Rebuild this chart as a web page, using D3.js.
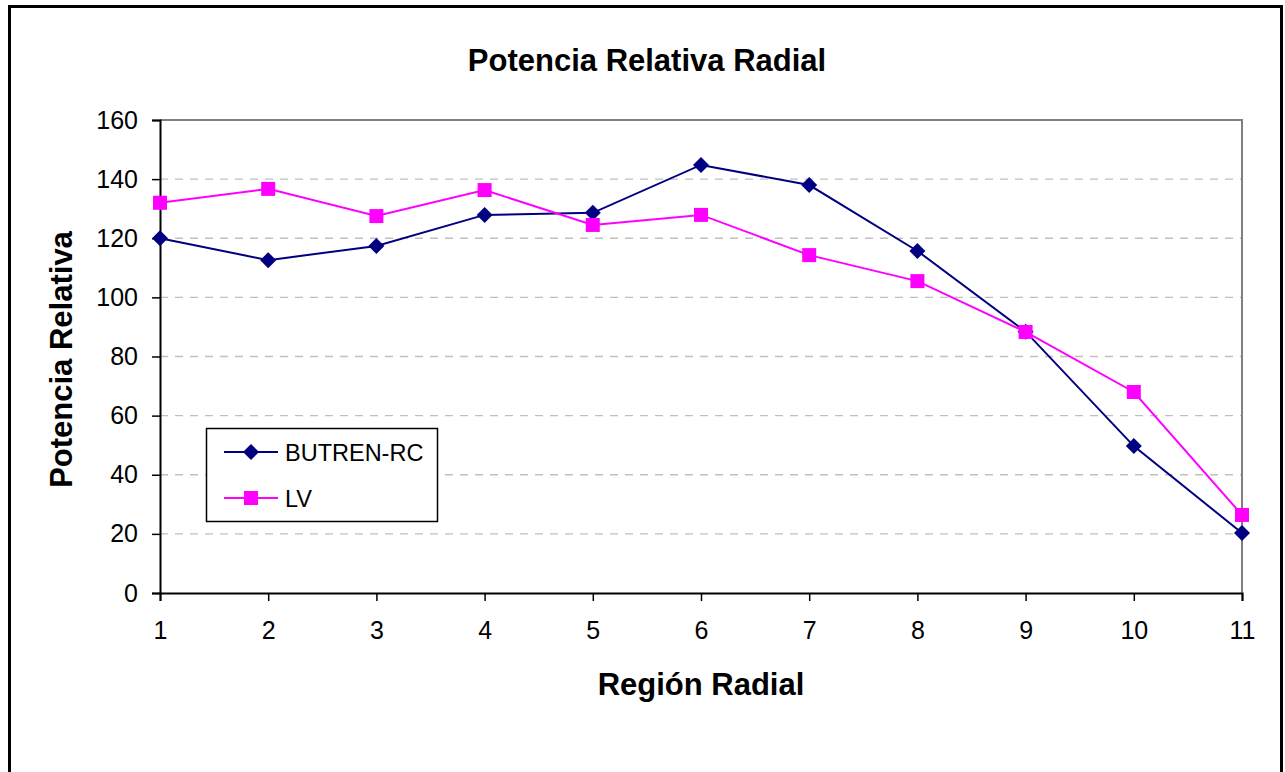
<!DOCTYPE html>
<html lang="es">
<head>
<meta charset="utf-8">
<title>Potencia Relativa Radial</title>
<script src="https://d3js.org/d3.v7.min.js"></script>
<style>
  body { margin: 0; background: #fff; }
  svg { font-family: "Liberation Sans", Arial, sans-serif; }
</style>
</head>
<body>
<script>
// data
const regions = [1, 2, 3, 4, 5, 6, 7, 8, 9, 10, 11];
const butren = [120, 112.6, 117.4, 127.9, 128.6, 144.8, 138, 115.7, 88.4, 49.7, 20.3];
const lv = [132, 136.7, 127.5, 136.3, 124.5, 127.9, 114.3, 105.5, 88.3, 68, 26.4];
const yTicks = [0, 20, 40, 60, 80, 100, 120, 140, 160];

const W = 1285, H = 772;
const plot = {left: 160, top: 120, right: 1242, bottom: 593};

const svg = d3.select("body").append("svg")
    .attr("width", W).attr("height", H);

// outer frame
svg.append("rect")
    .attr("x", 9.5).attr("y", 6.5)
    .attr("width", 1272).attr("height", 780)
    .attr("fill", "#fff").attr("stroke", "#000").attr("stroke-width", 3);

const x = d3.scaleLinear().domain([1, 11]).range([plot.left, plot.right]);
const y = d3.scaleLinear().domain([0, 160]).range([plot.bottom, plot.top]);

// grid lines
svg.append("g").selectAll("line")
    .data(yTicks.filter(d => d > 0 && d < 160))
    .join("line")
    .attr("x1", plot.left).attr("x2", plot.right)
    .attr("y1", d => y(d)).attr("y2", d => y(d))
    .attr("stroke", "#c0c0c0").attr("stroke-width", 1.3)
    .attr("stroke-dasharray", "8,7");

// top and right border of plot area
svg.append("path")
    .attr("d", `M${plot.left},${plot.top}H${plot.right}V${plot.bottom}`)
    .attr("fill", "none").attr("stroke", "#808080").attr("stroke-width", 2);

// axes
const yAxis = svg.append("g")
    .attr("transform", `translate(${plot.left},0)`)
    .call(d3.axisLeft(y).tickValues(yTicks).tickSize(8).tickPadding(14));
const xAxis = svg.append("g")
    .attr("transform", `translate(0,${plot.bottom})`)
    .call(d3.axisBottom(x).tickValues(regions).tickFormat(d3.format("d")).tickSize(8).tickPadding(20));

[yAxis, xAxis].forEach(a => {
  a.attr("font-size", 25).attr("font-family", "'Liberation Sans', Arial, sans-serif");
  a.select(".domain").attr("stroke", "#000").attr("stroke-width", 2);
  a.selectAll(".tick line").attr("stroke", "#000").attr("stroke-width", 1.5);
  a.selectAll("text").attr("fill", "#000");
});

// lines
const line = d3.line().x((d, i) => x(regions[i])).y(d => y(d));
const series = [
  {name: "BUTREN-RC", values: butren, color: "#000080", marker: "diamond"},
  {name: "LV", values: lv, color: "#ff00ff", marker: "square"}
];

const diamond = s => `M0,${-s}L${s},0L0,${s}L${-s},0Z`;
const square = s => `M${-s},${-s}H${s}V${s}H${-s}Z`;

series.forEach(s => {
  svg.append("path")
      .datum(s.values)
      .attr("d", line)
      .attr("fill", "none")
      .attr("stroke", s.color)
      .attr("stroke-width", 2);
});
series.forEach(s => {
  svg.append("g").selectAll("path")
      .data(s.values)
      .join("path")
      .attr("transform", (d, i) => `translate(${x(regions[i])},${y(d)})`)
      .attr("d", s.marker === "diamond" ? diamond(8) : square(7))
      .attr("fill", s.color);
});

// legend
const lg = svg.append("g");
lg.append("rect")
    .attr("x", 206.5).attr("y", 428.5)
    .attr("width", 231).attr("height", 93)
    .attr("fill", "#fff").attr("stroke", "#000").attr("stroke-width", 1.5);
series.forEach((s, i) => {
  const ly = 452 + i * 46;
  lg.append("line")
      .attr("x1", 224).attr("x2", 278).attr("y1", ly).attr("y2", ly)
      .attr("stroke", s.color).attr("stroke-width", 2);
  lg.append("path")
      .attr("transform", `translate(251,${ly})`)
      .attr("d", s.marker === "diamond" ? diamond(8) : square(7))
      .attr("fill", s.color);
  lg.append("text")
      .attr("x", 285).attr("y", ly + 8.5)
      .attr("font-size", 23.5)
      .text(s.name);
});

// titles
svg.append("text")
    .attr("x", 647).attr("y", 71)
    .attr("text-anchor", "middle")
    .attr("font-size", 31).attr("font-weight", "bold")
    .text("Potencia Relativa Radial");
svg.append("text")
    .attr("x", (plot.left + plot.right) / 2).attr("y", 695)
    .attr("text-anchor", "middle")
    .attr("font-size", 31).attr("font-weight", "bold")
    .text("Región Radial");
svg.append("text")
    .attr("transform", `translate(72,${(plot.top + plot.bottom) / 2 + 3}) rotate(-90)`)
    .attr("text-anchor", "middle")
    .attr("font-size", 31).attr("font-weight", "bold")
    .text("Potencia Relativa");
</script>
</body>
</html>
